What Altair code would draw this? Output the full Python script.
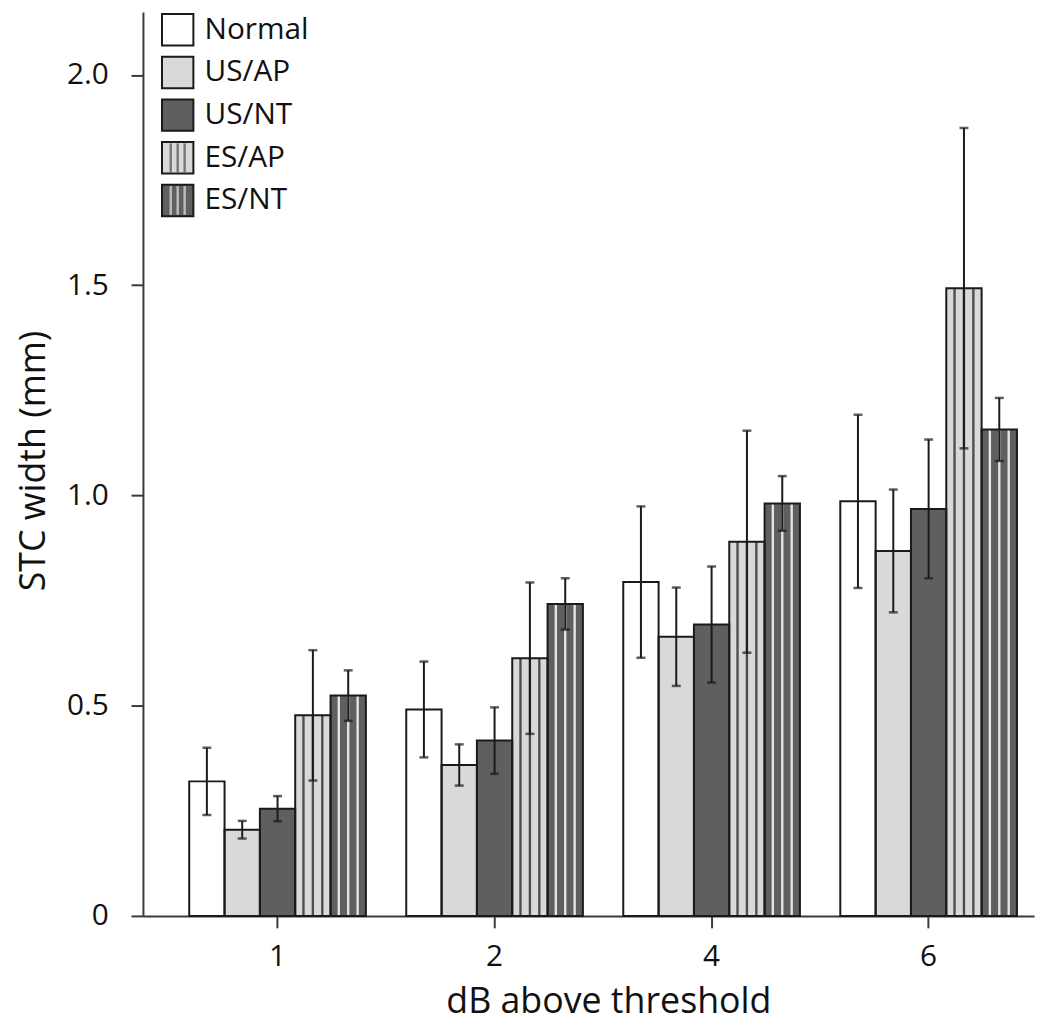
import altair as alt
import pandas as pd

FONT = "Open Sans"

db_levels = ["1", "2", "4", "6"]
groups = ["Normal", "US/AP", "US/NT", "ES/AP", "ES/NT"]

normal_mean = [0.320, 0.491, 0.794, 0.986]
usap_mean = [0.205, 0.359, 0.664, 0.868]
usnt_mean = [0.255, 0.417, 0.693, 0.968]
esap_mean = [0.477, 0.613, 0.890, 1.493]
esnt_mean = [0.524, 0.742, 0.981, 1.157]

normal_err = [0.080, 0.114, 0.180, 0.206]
usap_err = [0.021, 0.049, 0.117, 0.146]
usnt_err = [0.030, 0.079, 0.138, 0.165]
esap_err = [0.155, 0.180, 0.264, 0.381]
esnt_err = [0.060, 0.061, 0.065, 0.075]

fills = ["#ffffff", "#d9d9d9", "#5f5f5f", "#d9d9d9", "#5f5f5f"]
striped = ["ES/AP", "ES/NT"]
stripe_colors = {"ES/AP": "#4d4d4d", "ES/NT": "#e6e6e6"}
SUBSLOTS = 15
stripe_slots = [3, 7, 11]

PAD_INNER = 0.186
PAD_OUTER = 0.146

means = [normal_mean, usap_mean, usnt_mean, esap_mean, esnt_mean]
errs = [normal_err, usap_err, usnt_err, esap_err, esnt_err]
rows = []
for g, m, e in zip(groups, means, errs):
    for d, mv, ev in zip(db_levels, m, e):
        rows.append({"db": d, "group": g, "mean": mv, "lo": mv - ev, "hi": mv + ev})
df = pd.DataFrame(rows)

slot_domain = [f"{g}|{k}" for g in groups for k in range(SUBSLOTS)]
stripe_rows = []
for r in rows:
    if r["group"] in striped:
        for k in stripe_slots:
            stripe_rows.append({"db": r["db"], "group": r["group"], "mean": r["mean"],
                                "slot": f"{r['group']}|{k}"})
stripe_df = pd.DataFrame(stripe_rows)
legend_df = pd.DataFrame({"group": groups})

x_enc = alt.X(
    "db:N",
    sort=db_levels,
    scale=alt.Scale(domain=db_levels, paddingInner=PAD_INNER, paddingOuter=PAD_OUTER, align=0.73),
    axis=alt.Axis(
        title="dB above threshold",
        labelAngle=0,
        tickSize=12,
        labelPadding=14,
        labelBaseline="top",
        titleBaseline="alphabetic",
        titleY=97,
        titleX=469,
    ),
)
xoff = alt.XOffset("group:N", sort=groups,
                   scale=alt.Scale(domain=groups, paddingInner=0, paddingOuter=0))
y_scale = alt.Scale(domain=[0, 2.15], nice=False, zero=True)
y_axis = alt.Axis(
    title="STC width (mm)",
    values=[0, 0.5, 1.0, 1.5, 2.0],
    labelExpr="datum.value == 0 ? '0' : format(datum.value, '.1f')",
    tickSize=12,
    labelPadding=23,
    labelBaseline="middle",
    titleX=-110,
    titleY=452,
    titleBaseline="middle",
    titleAlign="center",
)


def yq(field):
    return alt.Y(f"{field}:Q", scale=y_scale, axis=y_axis)


color_enc = alt.Color("group:N", scale=alt.Scale(domain=groups, range=fills), legend=None)

base = alt.Chart(df)

fill_layer = base.mark_bar(strokeWidth=0).encode(x=x_enc, xOffset=xoff, y=yq("mean"), color=color_enc)

stripe_layers = []
for g in striped:
    stripe_layers.append(
        alt.Chart(stripe_df)
        .transform_filter(alt.datum.group == g)
        .mark_bar(color=stripe_colors[g], strokeWidth=0)
        .encode(
            x=x_enc,
            xOffset=alt.XOffset("slot:N", scale=alt.Scale(domain=slot_domain,
                                                          paddingInner=0, paddingOuter=0)),
            y=yq("mean"),
        )
    )

outline_layer = base.mark_bar(fillOpacity=0, stroke="#1a1a1a", strokeWidth=2).encode(
    x=x_enc, xOffset=xoff, y=yq("mean")
)

err_rule = base.mark_rule(color="#1a1a1a", strokeWidth=2).encode(
    x=x_enc, xOffset=xoff, y=yq("lo"), y2="hi:Q",
)
cap_hi = base.mark_tick(orient="horizontal", size=9, thickness=2.5, color="#1a1a1a").encode(
    x=x_enc, xOffset=xoff, y=yq("hi")
)
cap_lo = base.mark_tick(orient="horizontal", size=9, thickness=2.5, color="#1a1a1a").encode(
    x=x_enc, xOffset=xoff, y=yq("lo")
)

main = alt.layer(fill_layer, *stripe_layers, outline_layer, err_rule, cap_hi, cap_lo).resolve_scale(
    xOffset="independent"
)

# Legend (top-left, inside plot)
leg_y = alt.Y("group:N", sort=groups,
              scale=alt.Scale(type="point", domain=groups, range=[18, 190], padding=0),
              axis=None)
lbase = alt.Chart(legend_df)
leg_sq = lbase.mark_square(size=1000, stroke="#1a1a1a", strokeWidth=2, opacity=1, filled=True).encode(
    x=alt.value(35), y=leg_y, color=color_enc
)
leg_stripes = []
for g in striped:
    for px in [28, 35, 42]:
        leg_stripes.append(
            lbase.transform_filter(alt.datum.group == g)
            .mark_tick(orient="vertical", size=29, thickness=2.4, color=stripe_colors[g])
            .encode(x=alt.value(px), y=leg_y)
        )
leg_text = lbase.mark_text(align="left", baseline="middle", fontSize=30, font=FONT, color="#111").encode(
    x=alt.value(62), y=leg_y, text="group:N"
)
legend = alt.layer(leg_sq, *leg_stripes, leg_text)

chart = (
    alt.layer(main, legend)
    .resolve_scale(y="independent")
    .properties(
        width=898,
        height=911,
        autosize=alt.AutoSizeParams(type="none"),
        padding={"left": 136, "top": 0, "right": 8, "bottom": 108},
    )
    .configure_view(stroke=None)
    .configure_axis(
        grid=False,
        domainColor="#3a3a3a",
        domainWidth=2,
        tickColor="#3a3a3a",
        tickWidth=2,
        labelFont=FONT,
        labelFontSize=30,
        labelColor="#111",
        titleFont=FONT,
        titleFontSize=36,
        titleFontWeight="normal",
        titleColor="#111",
    )
)

chart.save("out.html", embed_options={"renderer": "svg", "actions": False})
